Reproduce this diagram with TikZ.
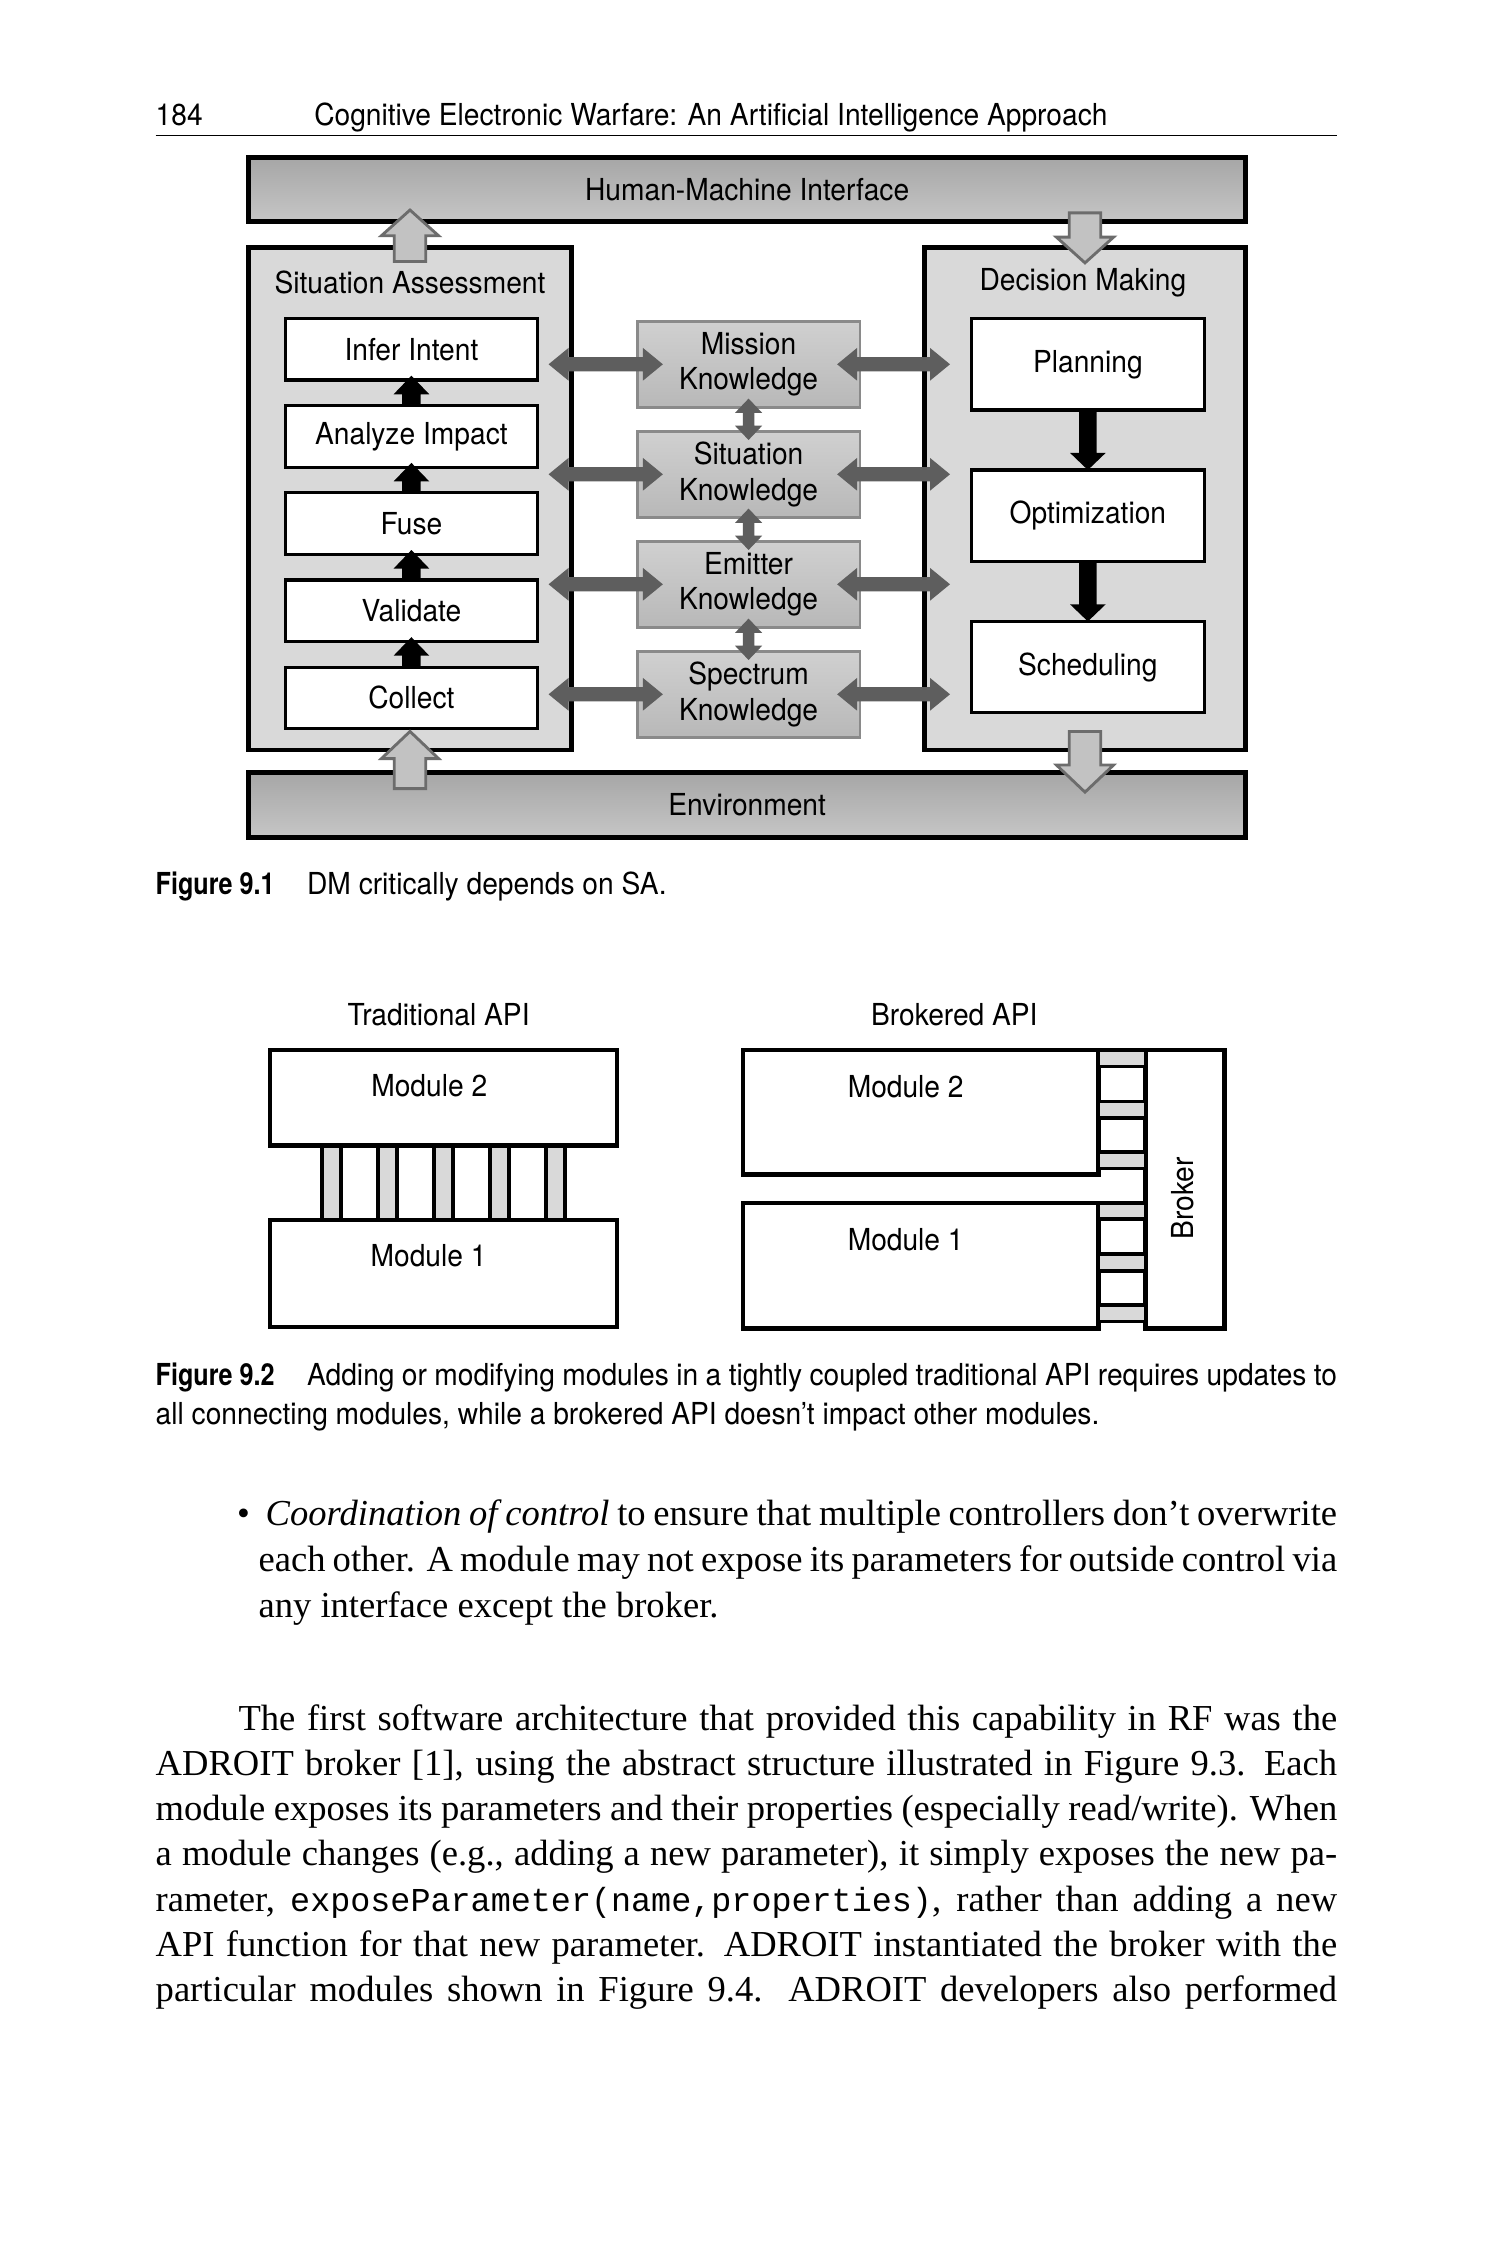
\documentclass[tikz,border=0pt]{standalone}
\usepackage{fontspec}
\setmainfont{Liberation Serif}
\setmonofont{Liberation Mono}
\newfontfamily\hsans{TeX Gyre Heros}[FakeStretch=0.93]
\newfontfamily\hsansbf{TeX Gyre Heros}[FakeStretch=0.83]
\usetikzlibrary{calc}
\newcommand\hsz{\fontsize{10.6pt}{13pt}\selectfont}
\newcommand\hszk{\fontsize{10.6pt}{12.5pt}\selectfont}
\newcommand\bsz{\fontsize{12.8pt}{15.8pt}\selectfont}
\definecolor{panel}{HTML}{D9D9D9}
\definecolor{bartop}{HTML}{A6A6A6}
\definecolor{barbot}{HTML}{C6C6C6}
\definecolor{kntop}{HTML}{D0D0D0}
\definecolor{knbot}{HTML}{B8B8B8}
\definecolor{knedge}{HTML}{8A8A8A}
\definecolor{darkarrow}{HTML}{5E5E5E}
\definecolor{hollowfill}{HTML}{C2C2C2}
\definecolor{hollowedge}{HTML}{6C6C6C}
% block arrow: style, start, tip, shaft half, head half, head length
\newcommand\blockarrow[6]{%
  \coordinate (baB) at ($(#3)!#6!(#2)$);
  \path[#1] ($(#2)!#4!90:(#3)$) -- ($(baB)!#4!-90:(#2)$) -- ($(baB)!#5!-90:(#2)$) -- (#3)
    -- ($(baB)!#5!90:(#2)$) -- ($(baB)!#4!90:(#2)$) -- ($(#2)!#4!-90:(#3)$) -- cycle;}
% double block arrow: style, end1, end2, shaft half, head half, head length
\newcommand\dblarrow[6]{%
  \coordinate (daA) at ($(#2)!#6!(#3)$);
  \coordinate (daB) at ($(#3)!#6!(#2)$);
  \path[#1] (#2) -- ($(daA)!#5!90:(#3)$) -- ($(daA)!#4!90:(#3)$) -- ($(daB)!#4!-90:(#2)$)
    -- ($(daB)!#5!-90:(#2)$) -- (#3) -- ($(daB)!#5!90:(#2)$) -- ($(daB)!#4!90:(#2)$)
    -- ($(daA)!#4!-90:(#3)$) -- ($(daA)!#5!-90:(#3)$) -- cycle;}
\tikzset{
  sanstext/.style={font=\hsans\hsz},
  hmibar/.style={draw=black, line width=1.7pt, top color=bartop, bottom color=barbot,
    minimum width=349pt, minimum height=22.5pt, font=\hsans\hsz},
  panelbox/.style={draw=black, line width=1.7pt, fill=panel, minimum width=113pt, minimum height=176pt},
  sabox/.style={draw=black, line width=1.1pt, fill=white, minimum width=88pt, minimum height=21.5pt, font=\hsans\hsz},
  dmbox/.style={draw=black, line width=1.1pt, fill=white, minimum width=81.5pt, minimum height=32pt, font=\hsans\hsz},
  knbox/.style={draw=knedge, line width=1pt, top color=kntop, bottom color=knbot,
    minimum width=78pt, minimum height=30pt, align=center, font=\hsans\hszk},
  blackarrow/.style={fill=black},
  grayarrow/.style={fill=darkarrow},
  hollowarrow/.style={fill=hollowfill, draw=hollowedge, line width=1pt, line join=miter},
  modbox/.style={draw=black, line width=1.6pt, fill=white},
  slotbar/.style={draw=black, line width=1.3pt, fill=panel},
  bodytext/.style={anchor=base west, font=\bsz},
}
\begin{document}
\begin{tikzpicture}[x=0.5pt,y=-0.5pt, every node/.style={inner sep=0pt, outer sep=0pt}]
\fill[white] (0,0) rectangle (1050,1575);
\useasboundingbox (0,0) rectangle (1050,1575);

% running head
\node[anchor=base west, sanstext] (pgnum) at (109,88) {184};
\node[anchor=base west, sanstext] (runhead) at (220,88) {Cognitive Electronic Warfare: An Artificial Intelligence Approach};
\coordinate (ruleL) at (109,95);
\coordinate (ruleR) at (936,95);
\draw[line width=0.5pt] (ruleL) -- (ruleR);

% ---------- Figure 9.1 ----------
\node[hmibar] (hmi) at (523,132.5) {Human-Machine Interface};
\node[hmibar] (env) at (523,563.5) {Environment};
\node[panelbox] (sa) at (287,349) {};
\node[panelbox, minimum width=112.5pt] (dm) at (759.5,349) {};
\node[sanstext] (satitle) at (287,198) {Situation Assessment};
\node[sanstext] (dmtitle) at (758,198) {Decision Making};

\node[sabox] (infer) at (288,244.5) {Infer Intent};
\node[sabox] (analyze) at (288,305.5) {Analyze Impact};
\node[sabox] (fuse) at (288,366.5) {Fuse};
\node[sabox] (validate) at (288,427.5) {Validate};
\node[sabox] (collect) at (288,488.5) {Collect};

\node[knbox] (mission) at (524,255) {Mission\\Knowledge};
\node[knbox] (situation) at (524,332) {Situation\\Knowledge};
\node[knbox] (emitter) at (524,409) {Emitter\\Knowledge};
\node[knbox] (spectrum) at (524,486) {Spectrum\\Knowledge};

\node[dmbox] (plan) at (761.5,255) {Planning};
\node[dmbox] (opt) at (761.5,361) {Optimization};
\node[dmbox] (sched) at (761.5,467) {Scheduling};

% black arrows in SA (upwards)
\foreach \lo/\up in {analyze/infer, fuse/analyze, validate/fuse, collect/validate}{
  \coordinate (s-\lo) at (\lo.north);
  \coordinate (t-\lo) at ($(\up.south)+(0,-3)$);
  \blockarrow{blackarrow}{s-\lo}{t-\lo}{3.25pt}{6.25pt}{6.5pt}
}
% black arrows in DM (downwards)
\foreach \up/\lo in {plan/opt, opt/sched}{
  \coordinate (s-\up) at (\up.south);
  \coordinate (t-\up) at (\lo.north);
  \blockarrow{blackarrow}{s-\up}{t-\up}{3.1pt}{6.25pt}{6pt}
}
% grey double arrows SA <-> knowledge <-> DM
\foreach \k in {mission, situation, emitter, spectrum}{
  \coordinate (l1-\k) at ($(\k.west)+(-62,0)$);
  \coordinate (l2-\k) at ($(\k.west)+(18,0)$);
  \coordinate (r1-\k) at ($(\k.east)+(-16,0)$);
  \coordinate (r2-\k) at ($(\k.east)+(63,0)$);
  \dblarrow{grayarrow}{l1-\k}{l2-\k}{2.5pt}{5.75pt}{7pt}
  \dblarrow{grayarrow}{r1-\k}{r2-\k}{2.5pt}{5.75pt}{7pt}
}
% vertical double arrows between knowledge boxes
\foreach \a/\b in {mission/situation, situation/emitter, emitter/spectrum}{
  \coordinate (v1-\a) at ($(\a.south)+(0,-6)$);
  \coordinate (v2-\a) at ($(\b.north)+(0,6)$);
  \dblarrow{grayarrow}{v1-\a}{v2-\a}{2pt}{4.75pt}{5pt}
}
% hollow arrows to/from HMI and Environment
\coordinate (h1s) at ($(sa.north)+(0,10)$);
\coordinate (h1t) at ($(sa.north |- hmi.south)+(0,-8)$);
\blockarrow{hollowarrow}{h1s}{h1t}{5.5pt}{10pt}{9pt}
\coordinate (h2s) at ($(dm.north |- hmi.south)+(0,-6)$);
\coordinate (h2t) at ($(dm.north)+(0,11)$);
\blockarrow{hollowarrow}{h2s}{h2t}{5.5pt}{10pt}{9pt}
\coordinate (h3s) at ($(sa.south |- env.north)+(0,11)$);
\coordinate (h3t) at ($(sa.south)+(0,-13)$);
\blockarrow{hollowarrow}{h3s}{h3t}{5.5pt}{10pt}{9.5pt}
\coordinate (h4s) at ($(dm.south)+(0,-13)$);
\coordinate (h4t) at ($(dm.south |- env.north)+(0,13.5)$);
\blockarrow{hollowarrow}{h4s}{h4t}{5.5pt}{10pt}{9.5pt}

% caption 9.1
\node[anchor=base west, font=\hsansbf\bfseries\hsz] (c1lbl) at (109,626) {Figure 9.1};
\node[anchor=base west, sanstext] (c1txt) at (215,626) {DM critically depends on SA.};

% ---------- Figure 9.2 ----------
\node[sanstext] (tradlbl) at (307,710) {Traditional API};
\node[modbox, minimum width=121.5pt, minimum height=33.5pt] (tm2) at (310.5,768.5) {};
\node[modbox, minimum width=121.5pt, minimum height=37.5pt] (tm1) at (310.5,891.5) {};
\node[sanstext] (tm2lbl) at (300.5,760) {Module 2};
\node[sanstext] (tm1lbl) at (300,879) {Module 1};
\foreach \o in {36.3, 75.5, 114.7, 153.9, 193.1}{
  \draw[slotbar] ($(tm2.south west)+(\o,0)$) rectangle ($(tm1.north west)+(\o+13.5,0)$);
}

\node[sanstext] (brklbl) at (668,710) {Brokered API};
\node[modbox, minimum width=124.5pt, minimum height=43.5pt] (bm2) at (644.5,778.5) {};
\node[modbox, minimum width=124.5pt, minimum height=44pt] (bm1) at (644.5,886) {};
\node[modbox, minimum width=27.5pt, minimum height=97.5pt] (broker) at (829.5,832.5) {};
\node[sanstext] (bm2lbl) at (634,761) {Module 2};
\node[sanstext] (bm1lbl) at (634,868) {Module 1};
\node[sanstext, rotate=90] (brokertxt) at (828,839) {Broker};
\foreach \m in {bm2, bm1}{
  \foreach \o in {0, 36, 71.5}{
    \draw[slotbar] ($(\m.north east)+(0,\o)$) rectangle ($(broker.west |- \m.north)+(0,\o+11.5)$);
  }
}

% caption 9.2
\node[anchor=base west, font=\hsansbf\bfseries\hsz] (c2lbl) at (109,970) {Figure 9.2};
\node[anchor=base west, sanstext] (c2a) at (215,970) {\makebox[360.5pt][s]{Adding or modifying modules in a tightly coupled traditional API requires updates to}};
\node[anchor=base west, sanstext] (c2b) at (109,997) {all connecting modules, while a brokered API doesn’t impact other modules.};

% ---------- body text ----------
\node[bodytext] (bul) at (166,1068) {\textbullet};
\node[bodytext] (b1) at (186,1068) {\makebox[375pt][s]{{\itshape Coordination of control} to ensure that multiple controllers don’t overwrite}};
\node[bodytext] (b2) at (181,1100) {\makebox[377.5pt][s]{each other. A module may not expose its parameters for outside control via}};
\node[bodytext] (b3) at (181,1132) {any interface except the broker.};

\node[bodytext] (p1) at (167,1211) {\makebox[384.5pt][s]{The first software architecture that provided this capability in RF was the}};
\node[bodytext] (p2) at (109,1242.7) {\makebox[413.5pt][s]{ADROIT broker [1], using the abstract structure illustrated in Figure 9.3. Each}};
\node[bodytext] (p3) at (109,1274.3) {\makebox[413.5pt][s]{module exposes its parameters and their properties (especially read/write). When}};
\node[bodytext] (p4) at (109,1306) {\makebox[413.5pt][s]{a module changes (e.g., adding a new parameter), it simply exposes the new pa-}};
\node[bodytext] (p5) at (109,1337.7) {\makebox[413.5pt][s]{rameter, {\ttfamily\fontsize{11.7pt}{15.8pt}\selectfont exposeParameter(name,properties)}, rather than adding a new}};
\node[bodytext] (p6) at (109,1369.3) {\makebox[413.5pt][s]{API function for that new parameter. ADROIT instantiated the broker with the}};
\node[bodytext] (p7) at (109,1401) {\makebox[413.5pt][s]{particular modules shown in Figure 9.4. ADROIT developers also performed}};
\end{tikzpicture}
\end{document}
